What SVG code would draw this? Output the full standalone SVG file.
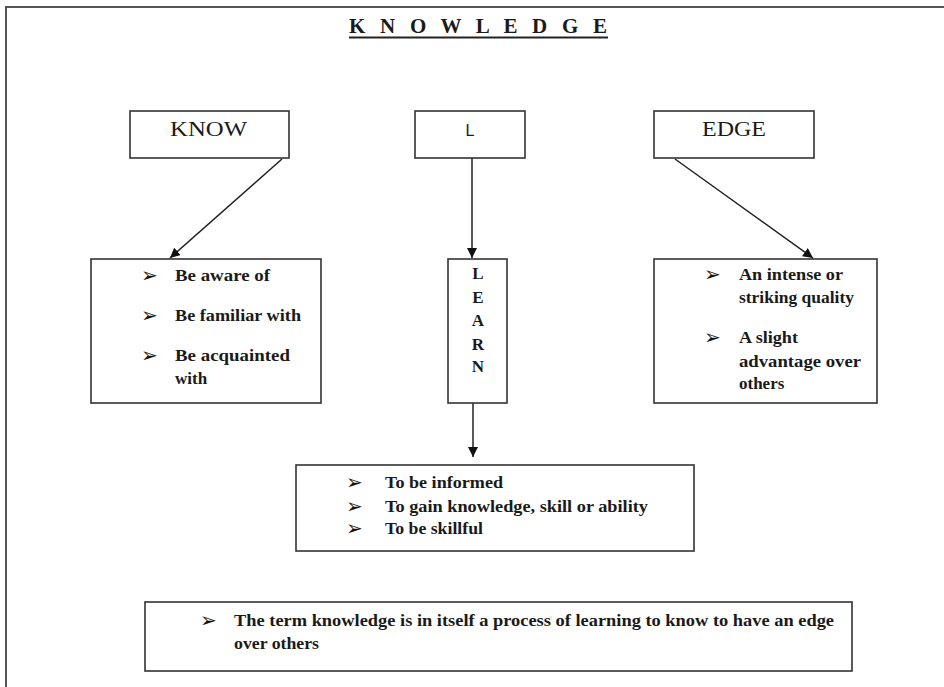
<svg xmlns="http://www.w3.org/2000/svg" width="944" height="687" viewBox="0 0 944 687">
<style>
.box{fill:#fff;stroke:#333;stroke-width:1.6}
.t{font-family:"Liberation Serif",serif;font-size:17px;font-weight:bold;fill:#1a1a1a}
.b{font-family:"DejaVu Sans",sans-serif;font-size:20px;fill:#111}
.h{font-family:"Liberation Serif",serif;font-size:22px;fill:#1a1a1a}
.c{stroke:#222;stroke-width:1.5;fill:none}
</style>
<defs>
<marker id="ah" viewBox="0 0 10 10" refX="10" refY="5" markerWidth="10" markerHeight="10" markerUnits="userSpaceOnUse" orient="auto">
<path d="M0,0 L10,5 L0,10 z" fill="#111"/>
</marker>
</defs>
<rect width="944" height="687" fill="#fff"/>
<path d="M6,700 L6,7 L950,7" fill="none" stroke="#555" stroke-width="2"/>
<g id="title">
<text x="349" y="33" font-family="Liberation Serif,serif" font-size="21" font-weight="bold" fill="#1a1a1a" textLength="258" lengthAdjust="spacing">K N O W L E D G E</text>
<line x1="349" y1="37.5" x2="608" y2="37.5" stroke="#222" stroke-width="2"/>
</g>
<g id="connectors">
<line class="c" x1="282" y1="159" x2="170" y2="258" marker-end="url(#ah)"/>
<line class="c" x1="472" y1="158" x2="472" y2="258" marker-end="url(#ah)"/>
<line class="c" x1="675" y1="159" x2="813" y2="258" marker-end="url(#ah)"/>
<line class="c" x1="473" y1="403" x2="473" y2="457" marker-end="url(#ah)"/>
</g>
<g id="know">
<rect class="box" x="130" y="111" width="159" height="47"/>
<text class="h" x="170" y="136" textLength="77" lengthAdjust="spacingAndGlyphs">KNOW</text>
</g>
<g id="l">
<rect class="box" x="415" y="111" width="110" height="47"/>
<text x="470" y="136" text-anchor="middle" font-family="Liberation Sans,sans-serif" font-size="16" fill="#1a1a1a">L</text>
</g>
<g id="edge">
<rect class="box" x="654" y="111" width="160" height="47"/>
<text class="h" x="702" y="136" textLength="64" lengthAdjust="spacingAndGlyphs">EDGE</text>
</g>
<g id="know-meanings">
<rect class="box" x="91" y="259" width="230" height="144"/>
<text class="b" x="141" y="282">➢</text><text class="t" x="175" y="281" textLength="95" lengthAdjust="spacingAndGlyphs">Be aware of</text>
<text class="b" x="141" y="322">➢</text><text class="t" x="175" y="321" textLength="126" lengthAdjust="spacingAndGlyphs">Be familiar with</text>
<text class="b" x="141" y="362">➢</text><text class="t" x="175" y="361" textLength="115" lengthAdjust="spacingAndGlyphs">Be acquainted</text>
<text class="t" x="175" y="384">with</text>
</g>
<g id="learn">
<rect class="box" x="448" y="259" width="59" height="144"/>
<g class="t" text-anchor="middle">
<text x="478" y="279">L</text>
<text x="478" y="303">E</text>
<text x="478" y="326">A</text>
<text x="478" y="350">R</text>
<text x="478" y="372">N</text>
</g>
</g>
<g id="edge-meanings">
<rect class="box" x="654" y="259" width="223" height="144"/>
<text class="b" x="704" y="281">➢</text><text class="t" x="739" y="280" textLength="104" lengthAdjust="spacingAndGlyphs">An intense or</text>
<text class="t" x="739" y="303" textLength="115" lengthAdjust="spacingAndGlyphs">striking quality</text>
<text class="b" x="704" y="344">➢</text><text class="t" x="739" y="343" textLength="59" lengthAdjust="spacingAndGlyphs">A slight</text>
<text class="t" x="739" y="367" textLength="122" lengthAdjust="spacingAndGlyphs">advantage over</text>
<text class="t" x="739" y="389">others</text>
</g>
<g id="learn-meanings">
<rect class="box" x="296" y="465" width="398" height="86"/>
<text class="b" x="346" y="489">➢</text><text class="t" x="385" y="488" textLength="118" lengthAdjust="spacingAndGlyphs">To be informed</text>
<text class="b" x="346" y="513">➢</text><text class="t" x="385" y="512" textLength="263" lengthAdjust="spacingAndGlyphs">To gain knowledge, skill  or ability</text>
<text class="b" x="346" y="535">➢</text><text class="t" x="385" y="534" textLength="98" lengthAdjust="spacingAndGlyphs">To be skillful</text>
</g>
<g id="summary">
<rect class="box" x="145" y="602" width="707" height="69"/>
<text class="b" x="200" y="627">➢</text><text class="t" x="234" y="626" textLength="600" lengthAdjust="spacingAndGlyphs">The term knowledge is in itself a process of learning to know to have an edge</text>
<text class="t" x="234" y="649" textLength="85" lengthAdjust="spacingAndGlyphs">over others</text>
</g>
</svg>
